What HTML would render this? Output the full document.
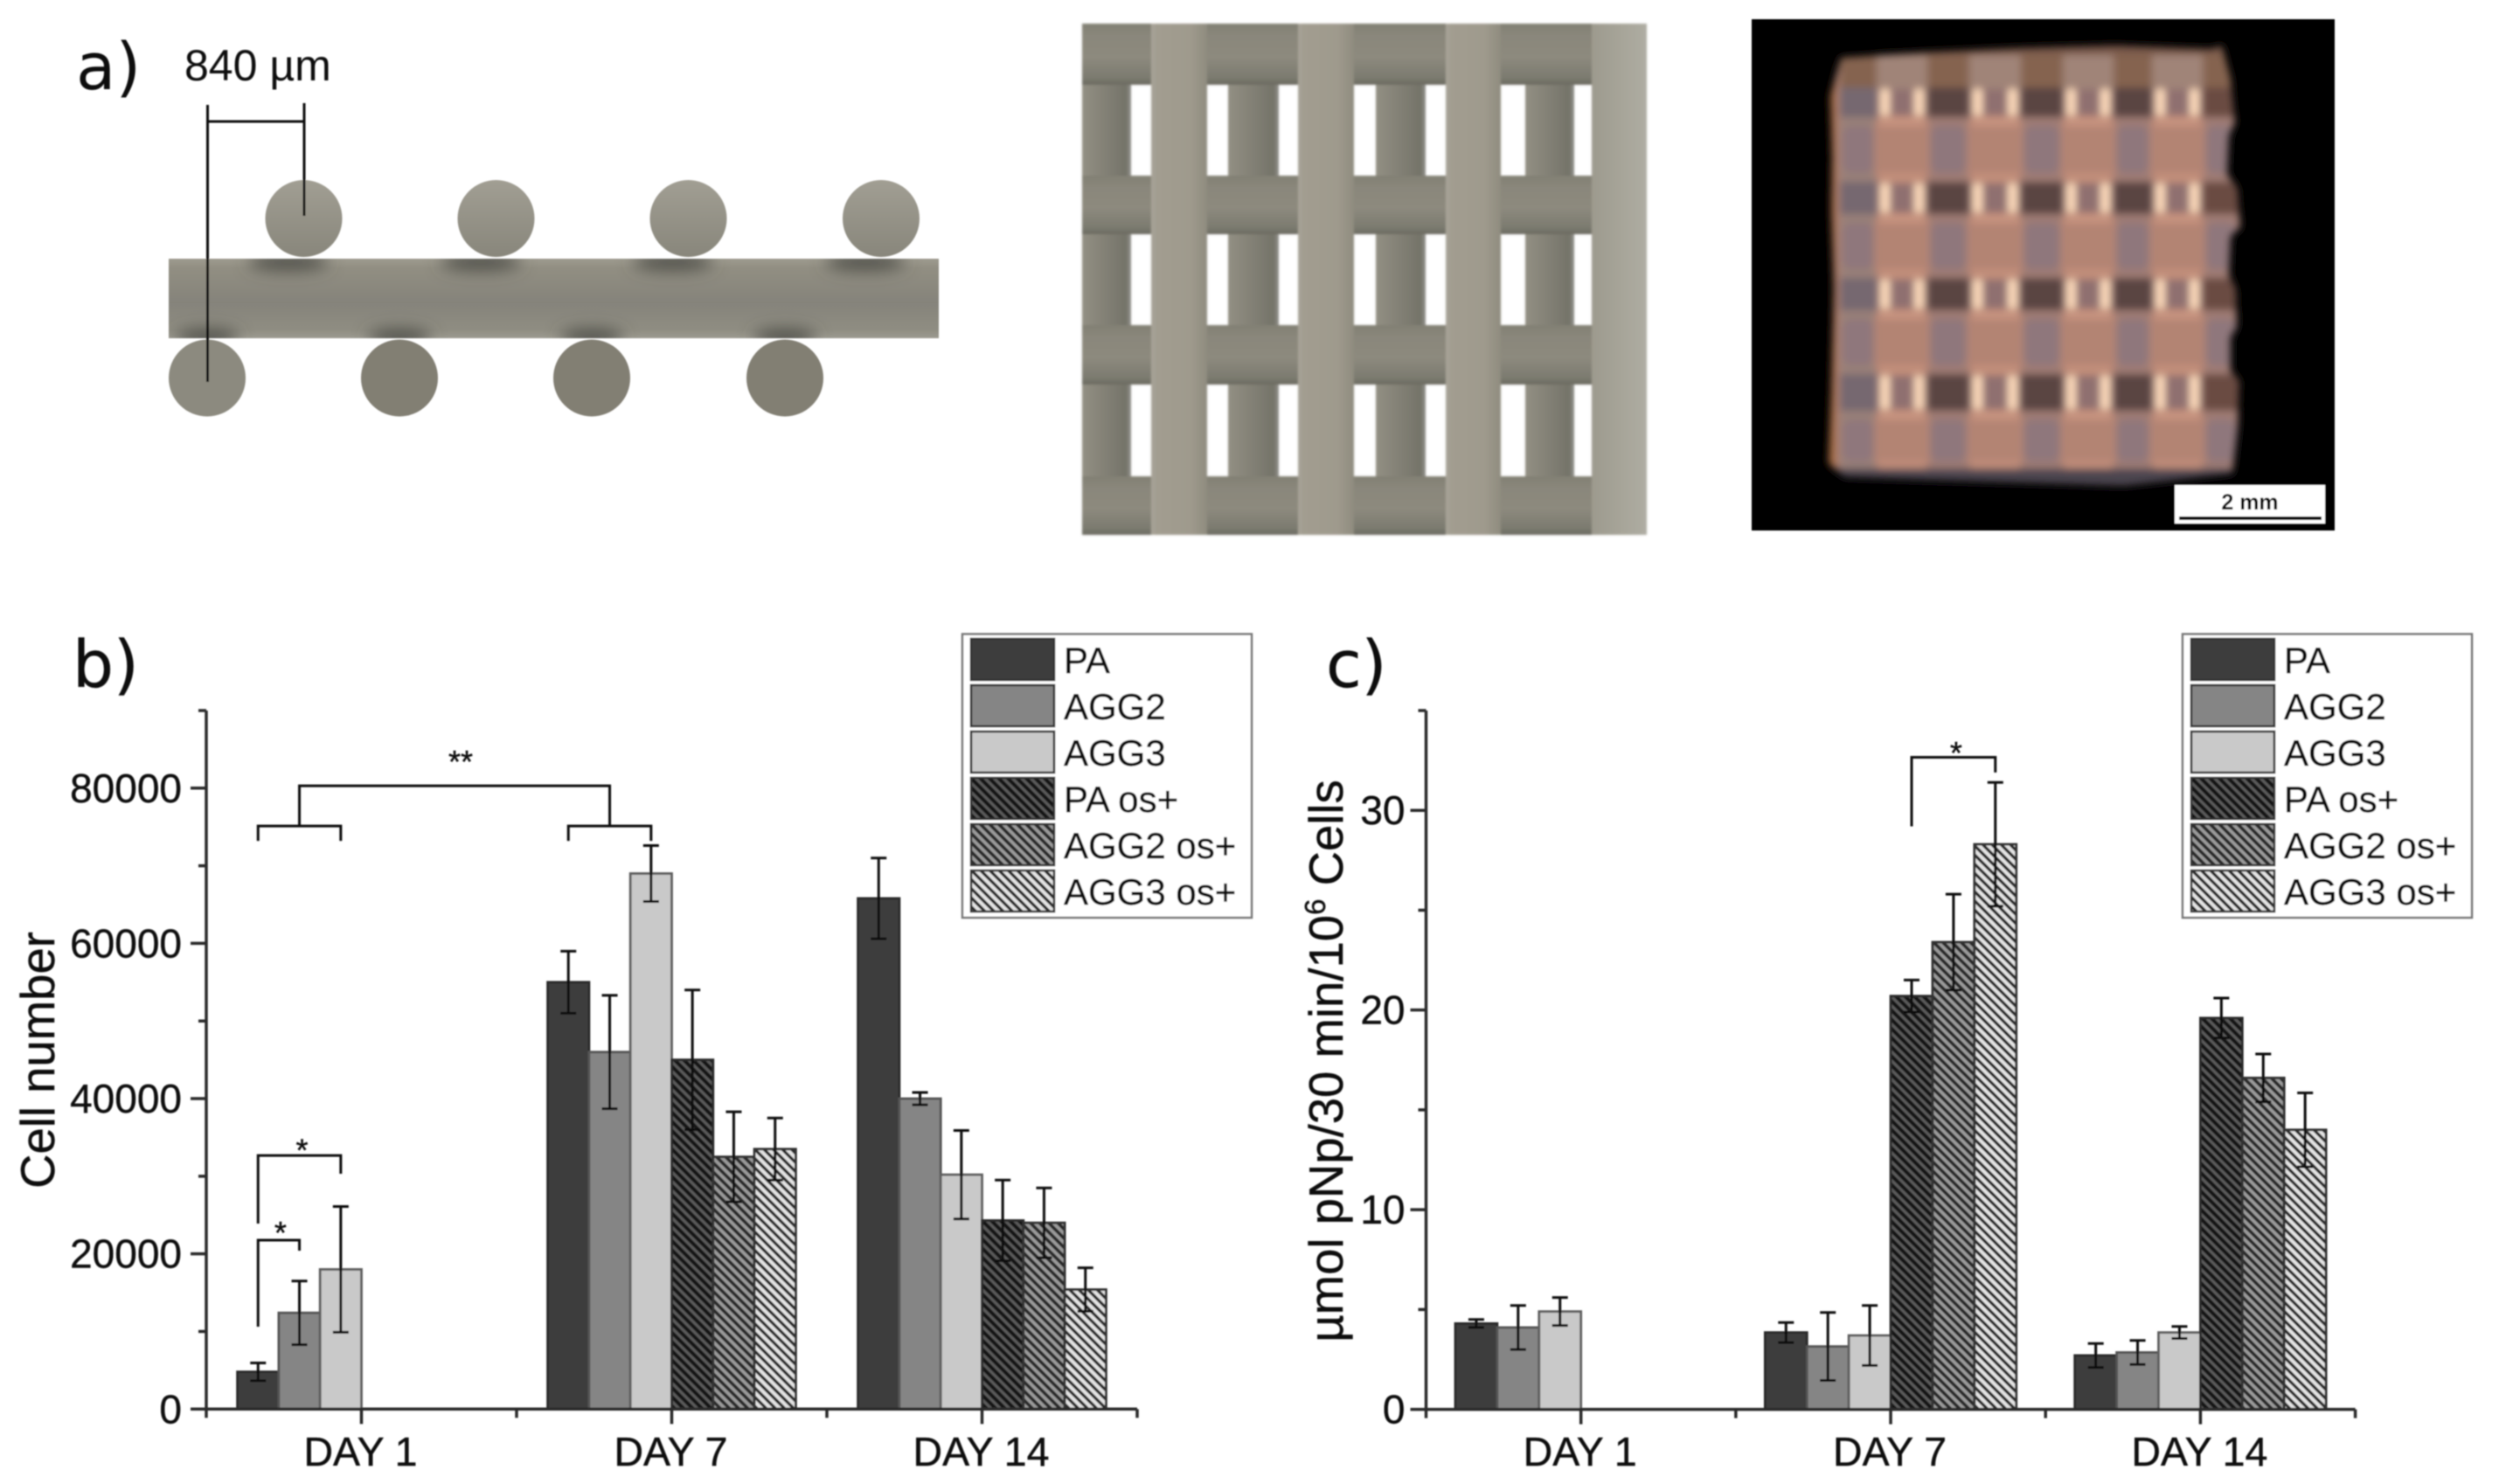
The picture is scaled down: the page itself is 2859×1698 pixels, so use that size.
<!DOCTYPE html>
<html lang="en">
<head>
<meta charset="utf-8">
<title>Scaffold design, cell number and ALP activity</title>
<style>
html,body{margin:0;padding:0;background:#fff;}
svg{display:block;font-family:"Liberation Sans",sans-serif;}
#chartB text,#chartC text{stroke:#111;stroke-width:.4px;}
</style>
</head>
<body>
<svg id="figure" xmlns="http://www.w3.org/2000/svg" width="2859" height="1698" viewBox="0 0 2859 1698">
<defs>
  <filter id="soft" x="-2%" y="-2%" width="104%" height="104%"><feGaussianBlur stdDeviation="0.9"/></filter>
  <filter id="soft1" x="-5%" y="-5%" width="110%" height="110%"><feGaussianBlur stdDeviation="1"/></filter>
  <filter id="soft3" x="-5%" y="-5%" width="110%" height="110%"><feGaussianBlur stdDeviation="4.5"/></filter>
  <filter id="soft8" x="-30%" y="-80%" width="160%" height="260%"><feGaussianBlur stdDeviation="9"/></filter>
  <clipPath id="strutClip"><rect x="193" y="296" width="881" height="91"/></clipPath>
  <clipPath id="sampleClip"><path d="M2106 66 L2200 60 L2310 55 L2420 52 L2530 56 L2542 52 L2552 90 L2557 140 L2550 155 L2548 200 L2560 215 L2563 260 L2552 270 L2550 315 L2558 330 L2559 375 L2552 385 L2552 425 L2562 435 L2560 490 L2554 542 L2430 556 L2300 552 L2200 549 L2110 546 L2092 530 L2095 450 L2098 330 L2095 240 L2096 180 L2094 110 Z"/></clipPath>
  <linearGradient id="strutFill" x1="0" y1="0" x2="0" y2="1">
    <stop offset="0" stop-color="#9d9a8e"/><stop offset=".12" stop-color="#918e82"/><stop offset=".55" stop-color="#85837a"/><stop offset=".9" stop-color="#8f8d82"/><stop offset="1" stop-color="#9c9a90"/>
  </linearGradient>
  <linearGradient id="topCircle" x1="0" y1="0" x2="0" y2="1">
    <stop offset="0" stop-color="#a19e93"/><stop offset="1" stop-color="#88867b"/>
  </linearGradient>
  <linearGradient id="underFill" x1="0" y1="0" x2="1" y2="0">
    <stop offset="0" stop-color="#928f83"/><stop offset=".55" stop-color="#807e73"/><stop offset=".9" stop-color="#747369"/><stop offset="1" stop-color="#93928c"/>
  </linearGradient>
  <linearGradient id="crossFill" x1="0" y1="0" x2="0" y2="1">
    <stop offset="0" stop-color="#828074"/><stop offset=".2" stop-color="#8a877b"/><stop offset=".55" stop-color="#8d8a7e"/><stop offset=".88" stop-color="#7c7b70"/><stop offset="1" stop-color="#6c6b61"/>
  </linearGradient>
  <linearGradient id="topFill" x1="0" y1="0" x2="1" y2="0">
    <stop offset="0" stop-color="#a8a498"/><stop offset=".1" stop-color="#a29d90"/><stop offset=".7" stop-color="#9f9a8d"/><stop offset="1" stop-color="#8f8c7f"/>
  </linearGradient>
  <linearGradient id="lastFill" x1="0" y1="0" x2="1" y2="0">
    <stop offset="0" stop-color="#9d9a8e"/><stop offset=".5" stop-color="#a6a498"/><stop offset="1" stop-color="#aeaca2"/>
  </linearGradient>
  <pattern id="hatch-pa" width="10.5" height="10.5" patternUnits="userSpaceOnUse">
    <rect width="10.5" height="10.5" fill="#5a5a5a"/><path d="M-3 -3 L13.5 13.5 M-3 7.5 L3 13.5 M7.5 -3 L13.5 3" stroke="#151515" stroke-width="4.2"/>
  </pattern>
  <pattern id="hatch-agg2" width="10.5" height="10.5" patternUnits="userSpaceOnUse">
    <rect width="10.5" height="10.5" fill="#9a9a9a"/><path d="M-3 -3 L13.5 13.5 M-3 7.5 L3 13.5 M7.5 -3 L13.5 3" stroke="#2c2c2c" stroke-width="3.8"/>
  </pattern>
  <pattern id="hatch-agg3" width="10.5" height="10.5" patternUnits="userSpaceOnUse">
    <rect width="10.5" height="10.5" fill="#e2e2e2"/><path d="M-3 -3 L13.5 13.5 M-3 7.5 L3 13.5 M7.5 -3 L13.5 3" stroke="#2a2a2a" stroke-width="3.4"/>
  </pattern>
</defs>
<rect width="2859" height="1698" fill="#ffffff"/>

<g id="root" filter="url(#soft)">
  <!-- panel a: side view -->
  <g>
    <text x="87" y="102" font-family="'DejaVu Sans',sans-serif" font-size="74" fill="#111">a)</text>
    <text x="211" y="92" font-size="50" fill="#111">840 µm</text>
    <g fill="url(#topCircle)">
      <circle cx="347.5" cy="250" r="44"/>
      <circle cx="567.5" cy="250" r="44"/>
      <circle cx="787.5" cy="250" r="44"/>
      <circle cx="1008" cy="250" r="44"/>
    </g>
    <g fill="#827f73">
      <circle cx="237" cy="432.5" r="44" fill="#8c8a7f"/>
      <circle cx="457" cy="432.5" r="44"/>
      <circle cx="677" cy="432.5" r="44"/>
      <circle cx="898" cy="432.5" r="44"/>
    </g>
    <rect x="193" y="296" width="881" height="91" fill="url(#strutFill)"/>
    <g clip-path="url(#strutClip)">
      <g filter="url(#soft8)" fill="#50504a">
        <ellipse cx="330" cy="300" rx="46" ry="10"/><ellipse cx="550" cy="300" rx="46" ry="10"/><ellipse cx="770" cy="300" rx="46" ry="10"/><ellipse cx="990" cy="300" rx="46" ry="10"/>
        <ellipse cx="237" cy="386" rx="36" ry="10"/><ellipse cx="457" cy="386" rx="36" ry="10"/><ellipse cx="677" cy="386" rx="36" ry="10"/><ellipse cx="898" cy="386" rx="36" ry="10"/>
      </g>
    </g>
    <g stroke="#111" stroke-width="3" fill="none">
      <path d="M237.5 120 V437"/><path d="M348 118 V247"/><path d="M237.5 139 H348"/>
    </g>
  </g>

  <!-- panel a: top view -->
  <g filter="url(#soft1)">
    <rect x="1238" y="27" width="56" height="585" fill="url(#underFill)"/>
    <rect x="1405" y="27" width="58" height="585" fill="url(#underFill)"/>
    <rect x="1574" y="27" width="57" height="585" fill="url(#underFill)"/>
    <rect x="1745" y="27" width="56" height="585" fill="url(#underFill)"/>
    <rect x="1238" y="27" width="583" height="70" fill="url(#crossFill)"/>
    <rect x="1238" y="201" width="583" height="67" fill="url(#crossFill)"/>
    <rect x="1238" y="372" width="583" height="68" fill="url(#crossFill)"/>
    <rect x="1238" y="545" width="583" height="67" fill="url(#crossFill)"/>
    <rect x="1317" y="27" width="64" height="585" fill="url(#topFill)"/>
    <rect x="1485" y="27" width="64" height="585" fill="url(#topFill)"/>
    <rect x="1654" y="27" width="63" height="585" fill="url(#topFill)"/>
    <rect x="1821" y="27" width="63" height="585" fill="url(#lastFill)"/>
  </g>

  <!-- panel a: photograph -->
  <g>
    <rect x="2004" y="22" width="667" height="585" fill="#000"/>
    <g id="sample" filter="url(#soft3)"></g>
    <g>
      <rect x="2488" y="555" width="172" height="44" fill="#fff"/>
      <text x="2574" y="583" text-anchor="middle" font-size="25" font-weight="bold" fill="#000">2 mm</text>
      <rect x="2493" y="591" width="163" height="4" fill="#000"/>
    </g>
  </g>

  <g id="chartB"></g>
  <g id="chartC"></g>
</g>
</svg>

<script>
// Shared chart data
const categories = ["DAY 1", "DAY 7", "DAY 14"];
const seriesNames = ["PA", "AGG2", "AGG3", "PA os+", "AGG2 os+", "AGG3 os+"];

// Panel b: cell number
const cellValues = [
  [4800, 55000, 65800],
  [12400, 46000, 40000],
  [18000, 69000, 30200],
  [null, 45000, 24300],
  [null, 32500, 24000],
  [null, 33500, 15400]
];
const cellErrors = [
  [1150, 4000, 5200],
  [4100, 7300, 800],
  [8100, 3600, 5700],
  [null, 9000, 5200],
  [null, 5800, 4500],
  [null, 4000, 2800]
];
const cellMajorTicks = [0, 20000, 40000, 60000, 80000];
const cellMinorTicks = [10000, 30000, 50000, 70000, 90000];

// Panel c: ALP activity
const alpValues = [
  [4.3, 3.85, 2.7],
  [4.1, 3.15, 2.85],
  [4.9, 3.7, 3.85],
  [null, 20.7, 19.6],
  [null, 23.4, 16.6],
  [null, 28.3, 14.0]
];
const alpErrors = [
  [0.2, 0.5, 0.6],
  [1.1, 1.7, 0.6],
  [0.7, 1.5, 0.3],
  [null, 0.8, 1.0],
  [null, 2.4, 1.2],
  [null, 3.1, 1.85]
];
const alpMajorTicks = [0, 10, 20, 30];
const alpMinorTicks = [5, 15, 25, 35];

const seriesFills = ["#3d3d3d", "#858585", "#c9c9c9", "url(#hatch-pa)", "url(#hatch-agg2)", "url(#hatch-agg3)"];
const seriesStrokes = ["#2a2a2a", "#555555", "#5e5e5e", "#2a2a2a", "#333333", "#333333"];
const NS = "http://www.w3.org/2000/svg";

function make(parent, tag, attrs, text) {
  const node = document.createElementNS(NS, tag);
  for (const k in attrs) node.setAttribute(k, attrs[k]);
  if (text !== undefined) node.textContent = text;
  parent.appendChild(node);
  return node;
}

function drawChart(opts) {
  const root = opts.root;
  const base = opts.base, top = 813;
  const y = v => base - (v / opts.yMax) * (base - top);
  const catW = (opts.right - opts.left) / categories.length;
  const cx = i => opts.left + catW * (i + 0.5);
  const barX = (g, s) => cx(g) - opts.barW * 3 + opts.barW * s;
  const barC = (g, s) => barX(g, s) + opts.barW / 2;

  const bars = make(root, "g", {});
  
  
  opts.values.forEach((series, s) => {
    series.forEach((v, g) => {
      if (v === null) return;
      const r = make(bars, "rect", {x: barX(g, s), y: y(v), width: opts.barW, height: base - y(v), fill: seriesFills[s], stroke: seriesStrokes[s], "stroke-width": 2.8});
      
      
    });
  });

  const errors = make(root, "g", {stroke: "#111", "stroke-width": 3, fill: "none"});
  
  
  opts.values.forEach((series, s) => {
    series.forEach((v, g) => {
      if (v === null) return;
      const e = opts.errors[s][g];
      const c = barC(g, s);
      const p = make(errors, "path", {d: `M${c} ${y(v + e)}V${y(v - e)}M${c - 9} ${y(v + e)}H${c + 9}M${c - 9} ${y(v - e)}H${c + 9}`});
      
      
    });
  });

  const axes = make(root, "g", {stroke: "#2a2a2a", "stroke-width": 3.5, fill: "none"});
  
  
  const yLine = make(axes, "path", {d: `M${opts.left} ${top}V${base}`});
  
  
  const xLine = make(axes, "path", {d: `M${opts.left} ${base}H${opts.right}`});
  
  

  opts.minorTicks.forEach(t => {
    const n = make(axes, "path", {d: `M${opts.left - 9} ${y(t)}H${opts.left}`});
    
    
  });
  opts.majorTicks.forEach(t => {
    const n = make(axes, "path", {d: `M${opts.left - 18} ${y(t)}H${opts.left}`});
    
    
    const label = make(root, "text", {x: opts.left - opts.labelGap, y: y(t) + 16, "text-anchor": "end", "font-size": 46, fill: "#111"}, String(t));
    
    
  });
  for (let i = 0; i <= categories.length; i++) {
    const xp = opts.left + catW * i;
    const n = make(axes, "path", {d: `M${xp} ${base}v10`});
    
    
  }
  categories.forEach((c, i) => {
    const n = make(axes, "path", {d: `M${cx(i)} ${base}v17`});
    
    
    const label = make(root, "text", {x: cx(i) - 1, y: 1677, "text-anchor": "middle", "font-size": 46.5, fill: "#111"}, c);
    
    
  });

  const panel = make(root, "text", {x: opts.panelX, y: 786, "font-family": "'DejaVu Sans',sans-serif", "font-size": 74, fill: "#111"}, opts.panel);
  
  

  const title = make(root, "text", {transform: `translate(${opts.titleX},${opts.titleY}) rotate(-90)`, "text-anchor": "middle", "font-size": 54.5, fill: "#111"});
  
  
  opts.title.forEach(part => {
    const t = make(title, "tspan", part.sup ? {dy: -20, "font-size": 33} : (part.after ? {dy: 20} : {}), part.text);
    
    
  });

  const legend = make(root, "g", {});
  
  
  const box = make(legend, "rect", {x: opts.legendX, y: 725.5, width: 331, height: 324.5, fill: "#fff", stroke: "#777", "stroke-width": 2.5});
  
  
  seriesNames.forEach((nm, s) => {
    const ry = 731 + s * 53;
    const sw = make(legend, "rect", {x: opts.legendX + 10, y: ry, width: 95, height: 47, fill: seriesFills[s], stroke: "#333", "stroke-width": 2.5});
    
    
    const tx = make(legend, "text", {x: opts.legendX + 116, y: ry + 39, "font-size": 42, fill: "#111"}, nm);
    
    
  });

  const sig = make(root, "g", {stroke: "#111", "stroke-width": 3, fill: "none"});
  
  
  opts.brackets(sig, y, barC);
  opts.stars.forEach(st => {
    const star = make(root, "text", {x: st.x(barC), y: y(st.v), "text-anchor": "middle", "font-size": 36, fill: "#111"}, st.text);
    
    
  });
}

drawChart({
  root: document.getElementById("chartB"),
  panel: "b)", panelX: 83, titleX: 62, titleY: 1213,
  title: [{text: "Cell number"}],
  left: 236, right: 1301, base: 1612.3, yMax: 90000, barW: 47.3, labelGap: 28, legendX: 1101,
  values: cellValues, errors: cellErrors,
  majorTicks: cellMajorTicks, minorTicks: cellMinorTicks,
  brackets(sig, y, c) {
    const paths = [
      `M${c(0,0)} ${y(73210)}V${y(75120)}H${c(0,2)}V${y(73210)}`,
      `M${c(1,0)} ${y(73210)}V${y(75120)}H${c(1,2)}V${y(73210)}`,
      `M${(c(0,0)+c(0,2))/2} ${y(75120)}V${y(80300)}H${(c(1,0)+c(1,2))/2}V${y(75120)}`,
      `M${c(0,0)} ${y(23900)}V${y(32680)}H${c(0,2)}V${y(30320)}`,
      `M${c(0,0)} ${y(10620)}V${y(21760)}H${c(0,1)}V${y(20410)}`
    ];
    paths.forEach(d => {
      const p = make(sig, "path", {d: d});
      
      
    });
  },
  stars: [
    {text: "**", v: 81990, x: c => (c(0,2) + c(1,0)) / 2 + 7},
    {text: "*", v: 31940, x: c => (c(0,0) + c(0,2)) / 2 + 3},
    {text: "*", v: 21300, x: c => (c(0,0) + c(0,1)) / 2 + 2}
  ]
});

drawChart({
  root: document.getElementById("chartC"),
  panel: "c)", panelX: 1517, titleX: 1536, titleY: 1214,
  title: [{text: "µmol pNp/30 min/10"}, {text: "6", sup: true}, {text: " Cells", after: true}],
  left: 1631.5, right: 2694.6, base: 1612.6, yMax: 35, barW: 47.9, labelGap: 24, legendX: 2497,
  values: alpValues, errors: alpErrors,
  majorTicks: alpMajorTicks, minorTicks: alpMinorTicks,
  brackets(sig, y, c) {
    const p = make(sig, "path", {d: `M${c(1,3)} ${y(29.2)}V${y(32.66)}H${c(1,5)}V${y(31.9)}`});
    
    
  },
  stars: [
    {text: "*", v: 32.34, x: c => (c(1,3) + c(1,5)) / 2 + 3}
  ]
});

// Photograph of the printed scaffold (not chart data)
(function () {
  const g = document.getElementById("sample");
  const blur = make(g, "g", {"clip-path": "url(#sampleClip)"});
  
  
  make(blur, "rect", {x: 2085, y: 45, width: 485, height: 520, fill: "#a87f72"});
  const darkCols = [[2105, 2147], [2205, 2253], [2312, 2360], [2418, 2462], [2520, 2562]];
  const lightCols = [[2147, 2205], [2253, 2312], [2360, 2418], [2462, 2520]];
  const rows = [[102, 132], [210, 243], [320, 353], [430, 468]];
  const gaps = [[132, 210], [243, 320], [353, 430], [468, 540]];
  // upper band above the first junction row
  darkCols.forEach(c => make(blur, "rect", {x: c[0], y: 55, width: c[1] - c[0], height: 50, fill: "#85644f"}));
  lightCols.forEach(c => make(blur, "rect", {x: c[0], y: 55, width: c[1] - c[0], height: 50, fill: "#a08478"}));
  // segments between junction rows
  gaps.forEach(r => {
    darkCols.forEach((c, i) => {
      make(blur, "rect", {x: c[0], y: r[0], width: c[1] - c[0], height: r[1] - r[0], fill: i === 0 ? "#9a8078" : "#a07d75"});
      make(blur, "rect", {x: c[0] + 3, y: r[0] + 12, width: c[1] - c[0] - 6, height: r[1] - r[0] - 24, rx: 10, fill: "#8f777c"});
    });
    lightCols.forEach(c => {
      make(blur, "rect", {x: c[0] - 3, y: r[0], width: c[1] - c[0] + 6, height: r[1] - r[0], rx: 16, fill: "#b38473"});
      make(blur, "rect", {x: c[0] + 2, y: r[0] + 2, width: c[1] - c[0] - 4, height: 10, fill: "#c99480"});
      make(blur, "rect", {x: c[0] + 2, y: r[1] - 12, width: c[1] - c[0] - 4, height: 10, fill: "#c4907c"});
    });
  });
  // junction rows: dark cells and bright glints
  rows.forEach(r => {
    darkCols.forEach((c, i) => make(blur, "rect", {x: c[0], y: r[0] - 2, width: c[1] - c[0], height: r[1] - r[0] + 4, fill: i === 0 ? "#76686f" : (i === 4 ? "#6a4c42" : "#5a4542")}));
    lightCols.forEach(c => {
      make(blur, "rect", {x: c[0], y: r[0], width: c[1] - c[0], height: r[1] - r[0], fill: "#8f7070"});
      make(blur, "rect", {x: c[0] + 4, y: r[0], width: 11, height: r[1] - r[0], fill: "#ffdcbc"});
      make(blur, "rect", {x: c[1] - 15, y: r[0], width: 11, height: r[1] - r[0], fill: "#ffdcbc"});
    });
  });
  // edges
  make(blur, "rect", {x: 2085, y: 536, width: 485, height: 26, fill: "#4c454f"});
  make(blur, "rect", {x: 2085, y: 45, width: 485, height: 18, fill: "#7a5a4c"});
  make(blur, "rect", {x: 2090, y: 60, width: 10, height: 480, fill: "#a86c3e"});
})();
</script>
</body>
</html>
